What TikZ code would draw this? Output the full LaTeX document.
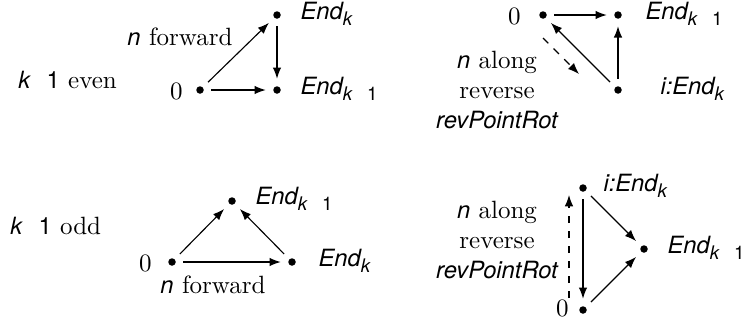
\documentclass[tikz,border=0pt]{standalone}
\usepackage{fontspec}
\setmainfont{Latin Modern Roman}
\newfontfamily\hvf{TeX Gyre Heros}
\usetikzlibrary{arrows.meta}
\newcommand\sv[1]{{\fontsize{9.5}{11}\hvf\itshape #1}}
\newcommand\su[1]{{\fontsize{9.5}{11}\hvf #1}}
\newcommand\subk[1]{\raisebox{-0.55ex}{\fontsize{7.5}{9}\hvf\itshape k#1}}
\begin{document}
\begin{tikzpicture}[x=0.4pt,y=-0.4pt,
  dot/.style={circle,fill=black,inner sep=0pt,minimum size=3pt,outer sep=3pt},
  lab/.style={anchor=west,inner sep=0pt},
  txt/.style={inner sep=0pt,align=center},
  arr/.style={-{Latex[length=4.5pt,width=3.4pt]},line width=0.45pt},
  darr/.style={arr,dash pattern=on 3pt off 3pt}]
\useasboundingbox (0,0) rectangle (745,327);
% panel 1
\node[txt,anchor=west] (c1) at (18,80) {\sv{k}\hspace{0.65em}\su{1} even};
\node[dot] (a0) at (200,90) {};
\node[dot] (a1) at (277,15) {};
\node[dot] (a2) at (277,90) {};
\node[lab,anchor=east] (a0l) at (183,91) {0};
\node[lab] (a1l) at (300,14) {\sv{End}\subk{}};
\node[lab] (a2l) at (300,89) {\sv{End}\subk{\hspace{0.8em}\upshape 1}};
\node[txt] (a3) at (180,37) {\sv{n} forward};
\draw[arr] (a0) -- (a1);
\draw[arr] (a1) -- (a2);
\draw[arr] (a0) -- (a2);
% panel 2
\node[dot] (b0) at (543,15) {};
\node[dot] (b1) at (618,15) {};
\node[dot] (b2) at (618,90) {};
\node[lab,anchor=east] (b0l) at (521,16) {0};
\node[lab] (b1l) at (645,14) {\sv{End}\subk{\hspace{0.8em}\upshape 1}};
\node[lab] (b2l) at (660,89) {\sv{i:End}\subk{}};
\node[txt] (b3) at (497,90) {\sv{n} along\\reverse\\\sv{revPointRot}};
\coordinate (bd1) at (543,38);
\coordinate (bd2) at (579,74);
\draw[arr] (b0) -- (b1);
\draw[arr] (b2) -- (b1);
\draw[arr] (b2) -- (b0);
\draw[darr] (bd1) -- (bd2);
% panel 3
\node[txt,anchor=west] (c3) at (10,226) {\sv{k}\hspace{0.65em}\su{1} odd};
\node[dot] (d0) at (172,262) {};
\node[dot] (d1) at (232,201) {};
\node[dot] (d2) at (292,262) {};
\node[lab,anchor=east] (d0l) at (152,263) {0};
\node[lab] (d1l) at (255,199) {\sv{End}\subk{\hspace{0.8em}\upshape 1}};
\node[lab] (d2l) at (318,261) {\sv{End}\subk{}};
\node[txt] (d3) at (213,285) {\sv{n} forward};
\draw[arr] (d0) -- (d1);
\draw[arr] (d2) -- (d1);
\draw[arr] (d0) -- (d2);
% panel 4
\node[dot] (e0) at (583,310) {};
\node[dot] (e1) at (583,188) {};
\node[dot] (e2) at (644,249) {};
\node[lab,anchor=east] (e0l) at (569,308) {0};
\node[lab] (e1l) at (603,186) {\sv{i:End}\subk{}};
\node[lab] (e2l) at (667,248) {\sv{End}\subk{\hspace{0.8em}\upshape 1}};
\node[txt] (e3) at (497,240) {\sv{n} along\\reverse\\\sv{revPointRot}};
\coordinate (ed1) at (569,298);
\coordinate (ed2) at (569,195);
\draw[arr] (e1) -- (e0);
\draw[arr] (e1) -- (e2);
\draw[arr] (e0) -- (e2);
\draw[darr] (ed1) -- (ed2);
\end{tikzpicture}
\end{document}
